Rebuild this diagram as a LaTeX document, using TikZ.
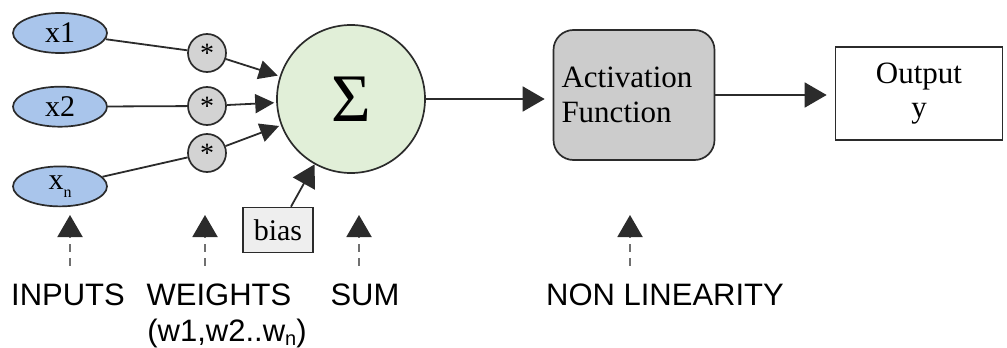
\documentclass[tikz,border=0pt]{standalone}
\usepackage{fontspec}
\setmainfont{Liberation Serif}
\setsansfont{Liberation Sans}
\usetikzlibrary{positioning,arrows.meta,shapes.geometric}

\definecolor{inblue}{HTML}{A9C5EB}
\definecolor{wgray}{HTML}{D3D3D3}
\definecolor{sumgreen}{HTML}{E1EFD8}
\definecolor{actgray}{HTML}{CCCCCC}
\definecolor{biasgray}{HTML}{EEEEEE}
\definecolor{edgegray}{HTML}{2B2B2B}
\definecolor{dashgray}{HTML}{707070}

\tikzset{
  input/.style={ellipse, draw=edgegray, fill=inblue, line width=0.85pt,
    minimum width=47pt, minimum height=20pt, inner sep=0pt,
    font=\fontsize{15}{15}\selectfont},
  weight/.style={circle, draw=edgegray, fill=wgray, line width=0.85pt,
    minimum size=19pt, inner sep=0pt, font=\fontsize{14}{14}\selectfont},
  sumnode/.style={circle, draw=edgegray, fill=sumgreen, line width=0.85pt,
    minimum size=74pt, inner sep=0pt, font=\fontsize{34}{34}\selectfont},
  biasbox/.style={rectangle, draw=edgegray, fill=biasgray, line width=0.85pt,
    minimum width=35pt, minimum height=22.5pt, inner sep=0pt,
    font=\fontsize{15}{15}\selectfont},
  actbox/.style={rectangle, rounded corners=10pt, draw=edgegray, fill=actgray,
    line width=0.85pt, text width=72.5pt, minimum height=65pt, inner sep=4pt,
    align=left, font=\fontsize{15.5}{17.5}\selectfont},
  outbox/.style={rectangle, draw=edgegray, fill=white, line width=0.85pt,
    minimum width=83.5pt, minimum height=46.5pt, inner sep=0pt,
    align=center, font=\fontsize{15.5}{17}\selectfont},
  link/.style={draw=edgegray, line width=0.9pt},
  arr/.style={link, -{Triangle[length=9.5pt,width=9.5pt]}, shorten >=1pt},
  bigarr/.style={link, -{Triangle[length=11pt,width=12.5pt]}, shorten >=4pt},
  pointer/.style={draw=dashgray, line width=1pt, dash pattern=on 4pt off 3pt,
    -{Triangle[length=11pt,width=12.5pt,color=edgegray]}},
  caption/.style={anchor=base, inner sep=0pt, font=\sffamily\fontsize{15.5}{15.5}\selectfont}
}

\begin{document}
\begin{tikzpicture}[x=0.5pt,y=-0.5pt]
\useasboundingbox (0,0) rectangle (1007,348);

\node[input] (x1) at (60,33) {x1};
\node[input, below=16pt of x1] (x2) {x2};
\node[input, below=19pt of x2] (xn) {x\raisebox{-4pt}{\fontsize{8}{8}\selectfont n}};

\node[weight] (w1) at (207,53) {*};
\node[weight] (w2) at (207,106) {*};
\node[weight] (w3) at (207,153) {*};

\node[sumnode] (sum) at (351,99) {Σ};
\node[biasbox] (bias) at (278,230) {bias};
\node[actbox] (act) at (634,95) {Activation\\Function};
\node[outbox] (out) at (919,93.5) {Output\\y};

% captions
\node[caption] (inputs) at (68,305) {INPUTS};
\node[caption] (weights) at (219,305) {WEIGHTS};
\node[caption] (wlist) at (227,341) {(w1,w2..w\raisebox{-2pt}{\fontsize{10}{10}\selectfont n})};
\node[caption] (sumlab) at (365,305) {SUM};
\node[caption] (nonlin) at (665,305) {NON LINEARITY};

\coordinate (tin) at (70,215);
\coordinate (tw) at (205,215);
\coordinate (ts) at (359,215);
\coordinate (tn) at (630,215);

% Connect nodes
\draw[link] (x1) -- (w1);
\draw[link] (x2) -- (w2);
\draw[link] (xn) -- (w3);
\draw[arr] (w1) -- (sum);
\draw[arr] (w2) -- (sum);
\draw[arr] (w3) -- (sum);
\draw[bigarr, shorten >=0pt] (bias) -- (sum);
\draw[bigarr] (sum.east) -- (sum.east -| act.west);
\draw[bigarr] (act.east) -- (act.east -| out.west);

% pointers to the captions
\draw[pointer, shorten <=8.5pt] (inputs.north -| tin) -- (tin);
\draw[pointer, shorten <=8.5pt] (weights.north -| tw) -- (tw);
\draw[pointer, shorten <=8.5pt] (sumlab.north -| ts) -- (ts);
\draw[pointer, shorten <=8.5pt] (nonlin.north -| tn) -- (tn);
\end{tikzpicture}
\end{document}
